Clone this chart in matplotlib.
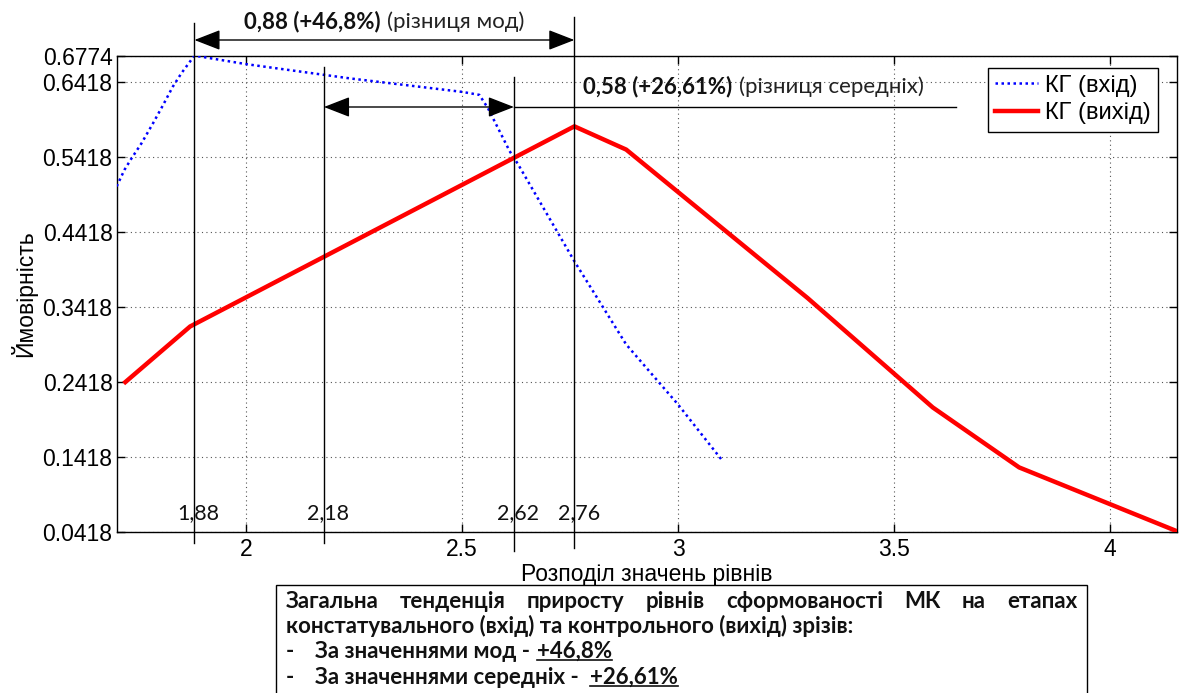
import matplotlib
matplotlib.use("Agg")
import matplotlib.pyplot as plt
from matplotlib.transforms import blended_transform_factory
from matplotlib.lines import Line2D
from matplotlib.patches import Rectangle

# --- level distributions (input / output) ---
level_in = [1.70, 1.718, 1.734, 1.757, 1.784, 1.807, 1.83, 1.85, 1.88, 2.00,
            2.24, 2.50, 2.54, 2.56, 2.61, 2.63, 2.76, 2.88, 3.00, 3.10]
prob_in = [0.503, 0.525, 0.540, 0.560, 0.587, 0.611, 0.636, 0.654, 0.6774,
           0.666, 0.647, 0.629, 0.625, 0.607, 0.550, 0.532, 0.403, 0.292,
           0.212, 0.139]

level_out = [1.72, 1.87, 2.76, 2.88, 3.30, 3.59, 3.79, 4.16]
prob_out = [0.2418, 0.316, 0.583, 0.552, 0.354, 0.208, 0.128, 0.0418]

series_names = ["КГ (вхід)", "КГ (вихід)"]

# modes and means
mode_in, mode_out = 1.88, 2.76
mean_in, mean_out = 2.18, 2.62
marker_values = [1.88, 2.18, 2.62, 2.76]
marker_labels = ["1,88", "2,18", "2,62", "2,76"]
mode_diff = ("0,88 (+46,8%)", "(різниця мод)")
mean_diff = ("0,58 (+26,61%)", "(різниця середніх)")

x_ticks = [2, 2.5, 3, 3.5, 4]
x_tick_labels = ["2", "2.5", "3", "3.5", "4"]
y_ticks = [0.0418, 0.1418, 0.2418, 0.3418, 0.4418, 0.5418, 0.6418, 0.6774]
y_tick_labels = ["0.0418", "0.1418", "0.2418", "0.3418", "0.4418", "0.5418",
                 "0.6418", "0.6774"]

x_label = "Розподіл значень рівнів"
y_label = "Ймовірність"

summary_head = "Загальна тенденція приросту рівнів сформованості МК на етапах"
summary_line2 = "констатувального (вхід) та контрольного (вихід) зрізів:"
summary_items = [("За значеннями мод - ", "+46,8%"),
                 ("За значеннями середніх -  ", "+26,61%")]

W, H = 1179, 693
AX_FONT = "Liberation Sans"
NOTE_FONT = "Lato"
plt.rcParams["font.family"] = [AX_FONT, "DejaVu Sans"]

fig = plt.figure(figsize=(W / 100, H / 100), dpi=100)
ax = fig.add_axes([116.7 / W, 1 - 532 / H, (1176.7 - 116.7) / W, (532 - 55.6) / H])


def fpos(px, py):
    return px / W, 1 - py / H


ax.plot(level_in, prob_in, color="blue", lw=1.8, linestyle=(0, (1, 1.4)),
        label=series_names[0], zorder=3)
ax.plot(level_out, prob_out, color="red", lw=3.2, label=series_names[1],
        zorder=4)

ax.set_xlim(1.7, 4.155)
ax.set_ylim(y_ticks[0], y_ticks[-1])
ax.set_xticks(x_ticks)
ax.set_xticklabels(x_tick_labels, fontfamily=AX_FONT, fontsize=16.5)
ax.set_yticks(y_ticks)
ax.set_yticklabels(y_tick_labels, fontfamily=AX_FONT, fontsize=16.5)
ax.tick_params(direction="in", length=6, width=1, top=True, right=True,
               pad=4)
ax.tick_params(axis="y", pad=3)
ax.grid(True, linestyle=(0, (1, 3)), color="#555555", lw=0.8)
ax.set_axisbelow(True)
for s in ax.spines.values():
    s.set_color("black")
    s.set_linewidth(1)

ax.set_xlabel(x_label, fontfamily=AX_FONT, fontsize=16.5, labelpad=1.5)
ax.set_ylabel(y_label, fontfamily=AX_FONT, fontsize=16.5, labelpad=4)

leg = ax.legend(loc="upper right", bbox_to_anchor=(0.982, 0.975),
                prop={"family": AX_FONT, "size": 17}, fancybox=False,
                edgecolor="black", framealpha=1, borderaxespad=0,
                handlelength=1.8, handletextpad=0.3, labelspacing=0.25,
                borderpad=0.3)
leg.get_frame().set_linewidth(1)

# vertical guides at modes and means, running past the axes box
trans = blended_transform_factory(ax.transData, ax.transAxes)
guide_span = {1.88: (-0.023, 1.069), 2.18: (-0.023, 0.977),
              2.62: (-0.04, 0.956), 2.76: (-0.034, 1.08)}
for xv, lab in zip(marker_values, marker_labels):
    y0, y1 = guide_span[xv]
    ax.plot([xv, xv], [y0, y1], transform=trans, color="black", lw=1,
            clip_on=False, zorder=5)
    ax.text(xv + 0.01, 0.04, lab, transform=trans, ha="center", va="center",
            fontfamily=NOTE_FONT, fontsize=15.5, color="#111111")

arrow_kw = dict(arrowstyle="<|-|>,head_length=0.9,head_width=0.35",
                color="black", lw=1, shrinkA=0, shrinkB=0, mutation_scale=18)
y_mode_arrow = (532 - 40) / 476.4
y_mean_arrow = (532 - 107) / 476.4
ax.annotate("", xy=(mode_in, y_mode_arrow), xytext=(mode_out, y_mode_arrow),
            xycoords=trans, textcoords=trans, arrowprops=arrow_kw,
            annotation_clip=False)
ax.annotate("", xy=(mean_in, y_mean_arrow), xytext=(mean_out, y_mean_arrow),
            xycoords=trans, textcoords=trans, arrowprops=arrow_kw,
            annotation_clip=False)
# leader line running from the mean arrow under its label
ax.plot([mean_out, 3.645], [y_mean_arrow, y_mean_arrow], transform=trans,
        color="black", lw=1, clip_on=False, zorder=5)


def two_part(x, y, parts):
    t1 = ax.text(x, y, parts[0], transform=trans, ha="left", va="center",
                 fontfamily=NOTE_FONT, fontsize=16, fontweight="bold",
                 color="#111111")
    t2 = ax.annotate(parts[1], xy=(1, 0.5), xycoords=t1, xytext=(5, 0),
                     textcoords="offset points", ha="left", va="center",
                     fontfamily=NOTE_FONT, fontsize=16, color="#222222",
                     annotation_clip=False)
    return t1, t2


mode_t1, mode_t2 = two_part((mode_in + mode_out) / 2, (532 - 22) / 476.4,
                            mode_diff)
two_part(2.78, (532 - 87) / 476.4, mean_diff)

# summary box under the chart
x_left, x_right = 286, 1077
bx = Rectangle(fpos(276, 760), (1087 - 276) / W, (760 - 585) / H,
               transform=fig.transFigure, fill=False, ec="black", lw=1)
fig.add_artist(bx)

note_kw = dict(fontfamily=NOTE_FONT, fontsize=16, fontweight="bold",
               va="center", ha="left", color="#111111")
head_words = summary_head.split()
word_texts = [fig.text(*fpos(x_left, 601), w, **note_kw) for w in head_words]
fig.text(*fpos(x_left, 626), summary_line2, **note_kw)
under_texts = []
for i, (lead, val) in enumerate(summary_items):
    yy = 651 + 26 * i
    fig.text(*fpos(x_left, yy), "-", **note_kw)
    t_lead = fig.text(*fpos(315, yy), lead.rstrip(), **note_kw)
    gap = 5 if i == 0 else 8
    t_val = ax.annotate(val, xy=(1, 0.5), xycoords=t_lead, xytext=(gap, 0),
                        textcoords="offset points", annotation_clip=False,
                        **note_kw)
    under_texts.append(t_val)

fig.canvas.draw()
renderer = fig.canvas.get_renderer()

# centre the two-part mode label over its arrow
b1 = mode_t1.get_window_extent(renderer)
b2 = mode_t2.get_window_extent(renderer)
total = b2.x1 - b1.x0
cx = ax.transData.transform(((mode_in + mode_out) / 2, 0))[0]
new_x0 = cx - total / 2
xd = ax.transData.inverted().transform((new_x0, 0))[0]
mode_t1.set_x(xd)

# justify the first line of the summary
widths = [t.get_window_extent(renderer).width for t in word_texts]
space = ((x_right - x_left) - sum(widths)) / (len(word_texts) - 1)
cur = x_left
for t, w in zip(word_texts, widths):
    t.set_x(cur / W)
    cur += w + space

# underline the percentages
fig.canvas.draw()
inv = fig.transFigure.inverted()
for t in under_texts:
    bb = t.get_window_extent(renderer)
    (fx0, fy), (fx1, _) = inv.transform([(bb.x0, bb.y0 + 1.5), (bb.x1, bb.y0)])
    fig.add_artist(Line2D([fx0, fx1], [fy, fy], transform=fig.transFigure,
                          color="#111111", lw=1.2))

fig.savefig("out.png", dpi=100)
